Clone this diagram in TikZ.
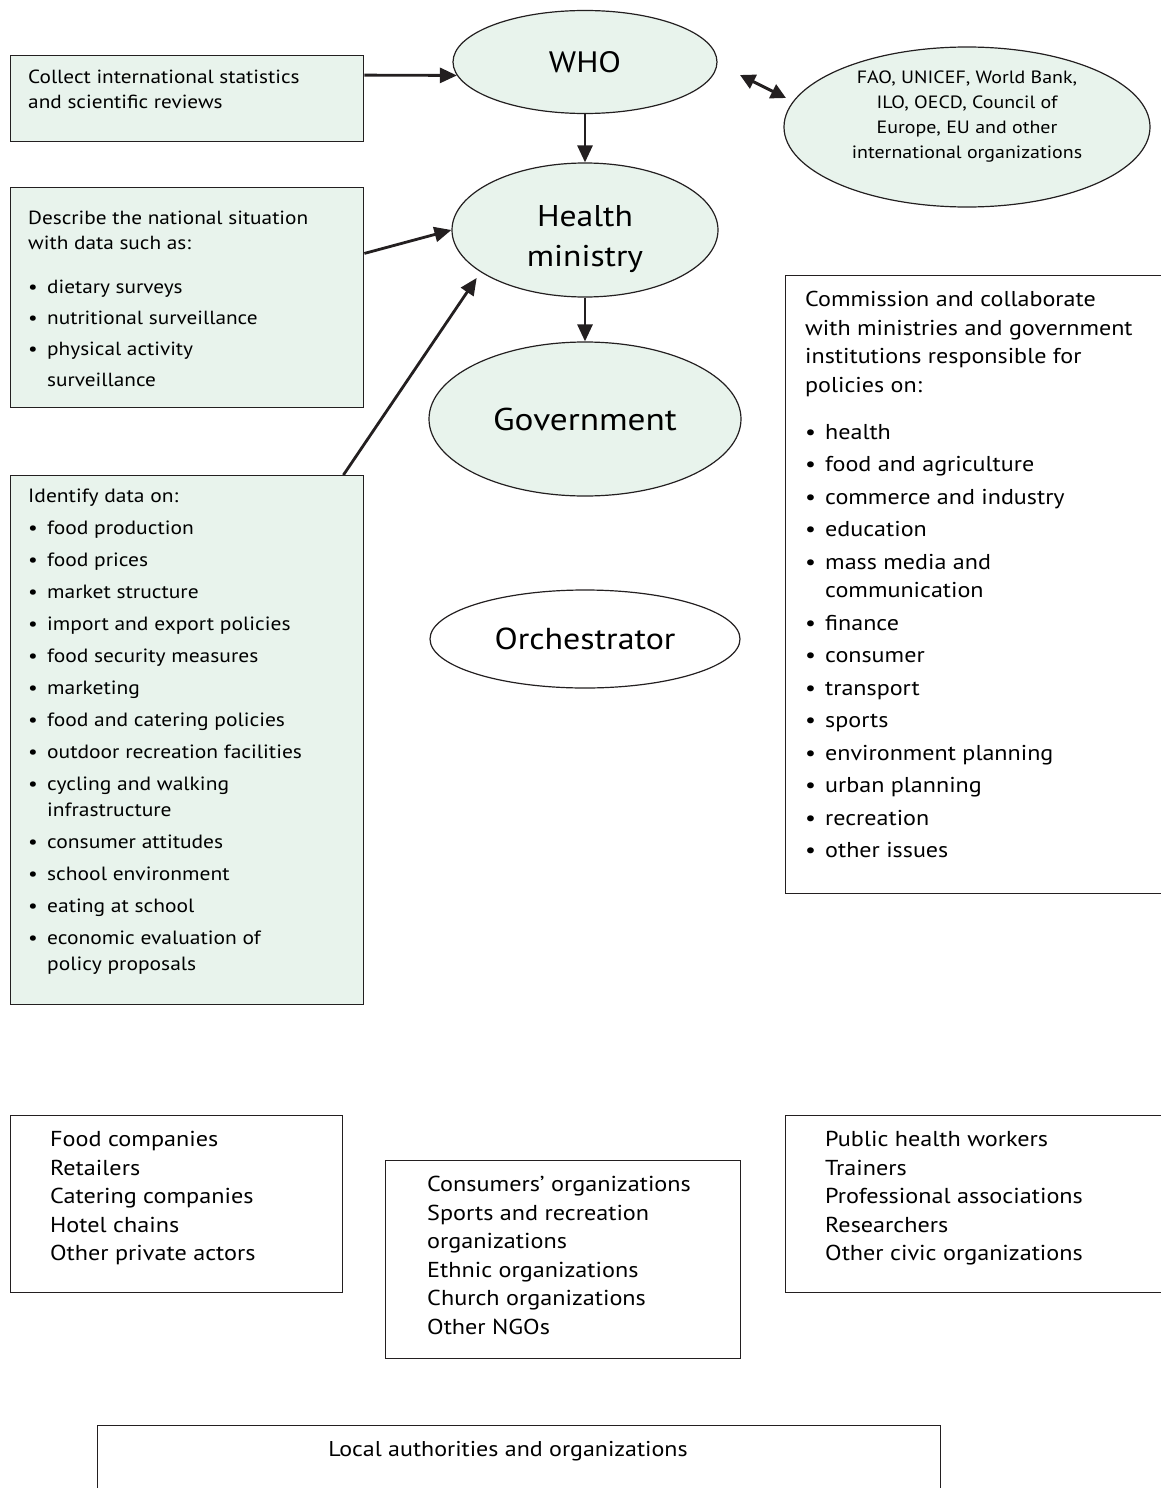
\documentclass[tikz,border=0pt]{standalone}
\usepackage{fontspec}
\setmainfont{PT Sans}[FakeStretch=1.12]
\usetikzlibrary{arrows.meta,positioning,calc,shapes.geometric}
\definecolor{boxgreen}{RGB}{232,243,236}
\definecolor{ink}{RGB}{35,31,32}
\newcommand{\bul}{\makebox[19pt][l]{\textbullet}}
\newcommand{\bulr}{\makebox[20pt][l]{\textbullet}}
\newcommand{\ind}{\hspace*{19pt}}
\newcommand{\indr}{\hspace*{20pt}}

\begin{document}
\begin{tikzpicture}[x=1pt,y=-1pt,
  box/.style={rectangle, draw=ink, line width=1.4pt, inner sep=0pt, anchor=north west},
  gbox/.style={box, fill=boxgreen},
  oval/.style={ellipse, draw=ink, line width=1.2pt, inner sep=0pt, fill=boxgreen, align=center},
  txt/.style={anchor=north west, inner sep=0pt, align=left},
  mid/.style={inner sep=0pt, align=center},
  arr/.style={-{Triangle[length=17pt,width=15pt]}, line width=2.8pt, draw=ink},
  dbl/.style={{Triangle[length=15pt,width=15pt]}-{Triangle[length=15pt,width=15pt]}, line width=3pt, draw=ink}]
  \useasboundingbox (0,0) rectangle (1160,1488);
  % ovals
  \node[oval, minimum width=264pt, minimum height=103pt, font=\fontsize{29.5}{40}\selectfont] (who) at (585,62) {WHO};
  \node[oval, minimum width=366pt, minimum height=160pt] (fao) at (967,127) {};
  \node[mid, font=\fontsize{17.8}{25}\selectfont] (faotxt) at ($(fao)+(0,-10)$)
    {FAO, UNICEF, World Bank,\\ILO, OECD, Council of\\Europe, EU and other\\international organizations};
  \node[oval, minimum width=266pt, minimum height=134pt] (health) at (585,230) {};
  \node[mid, font=\fontsize{30}{40}\selectfont] (healthtxt) at ($(health)+(0,9)$) {Health\\ministry};
  \node[oval, minimum width=312pt, minimum height=154pt, font=\fontsize{31.5}{40}\selectfont] (gov) at (585,419) {Government};
  \node[oval, fill=white, minimum width=310pt, minimum height=98pt, font=\fontsize{30.3}{40}\selectfont] (orch) at (585,639) {Orchestrator};
  % left boxes
  \node[gbox, minimum width=353pt, minimum height=86pt] (stats) at (10,55) {};
  \node[txt, font=\fontsize{19}{25}\selectfont] (statstxt) at (28,70)
    {Collect international statistics\\and scientific reviews};
  \node[gbox, minimum width=353pt, minimum height=220pt] (describe) at (10,187) {};
  \node[txt, font=\fontsize{19}{25}\selectfont] (describetxt) at (28,211)
    {Describe the national situation\\with data such as:\\[19pt]
     \bul dietary surveys\\[6pt]
     \bul nutritional surveillance\\[6pt]
     \bul physical activity\\[6pt]
     \ind surveillance};
  \node[gbox, minimum width=353pt, minimum height=529pt] (identify) at (10,475) {};
  \node[txt, font=\fontsize{19.2}{26}\selectfont] (identifytxt) at (28,489)
    {Identify data on:\\[6pt]
     \bul food production\\[6pt]
     \bul food prices\\[6pt]
     \bul market structure\\[6pt]
     \bul import and export policies\\[6pt]
     \bul food security measures\\[6pt]
     \bul marketing\\[6pt]
     \bul food and catering policies\\[6pt]
     \bul outdoor recreation facilities\\[6pt]
     \bul cycling and walking\\
     \ind infrastructure\\[6pt]
     \bul consumer attitudes\\[6pt]
     \bul school environment\\[6pt]
     \bul eating at school\\[6pt]
     \bul economic evaluation of\\
     \ind policy proposals};
  % right box
  \node[box, minimum width=390pt, minimum height=618pt] (commission) at (785,275) {};
  \node[txt, font=\fontsize{21.5}{28.5}\selectfont] (commissiontxt) at (805,291)
    {Commission and collaborate\\with ministries and government\\institutions responsible for\\policies on:\\[18.5pt]
     \bulr health\\[4pt]
     \bulr food and agriculture\\[4pt]
     \bulr commerce and industry\\[4pt]
     \bulr education\\[4pt]
     \bulr mass media and\\
     \indr communication\\[4pt]
     \bulr finance\\[4pt]
     \bulr consumer\\[4pt]
     \bulr transport\\[4pt]
     \bulr sports\\[4pt]
     \bulr environment planning\\[4pt]
     \bulr urban planning\\[4pt]
     \bulr recreation\\[4pt]
     \bulr other issues};
  % actor boxes
  \node[box, minimum width=332pt, minimum height=177pt] (private) at (10,1115) {};
  \node[txt, font=\fontsize{21.6}{28.5}\selectfont] (privatetxt) at (50,1131)
    {Food companies\\Retailers\\Catering companies\\Hotel chains\\Other private actors};
  \node[box, minimum width=355pt, minimum height=198pt] (ngo) at (385,1160) {};
  \node[txt, font=\fontsize{21.6}{28.5}\selectfont] (ngotxt) at (427,1176)
    {Consumers’ organizations\\Sports and recreation\\organizations\\Ethnic organizations\\Church organizations\\Other NGOs};
  \node[box, minimum width=390pt, minimum height=177pt] (civic) at (785,1115) {};
  \node[txt, font=\fontsize{21.6}{28.5}\selectfont] (civictxt) at (825,1131)
    {Public health workers\\Trainers\\Professional associations\\Researchers\\Other civic organizations};
  \node[box, minimum width=843pt, minimum height=90pt] (local) at (97,1425) {};
  \node[inner sep=0pt, font=\fontsize{21.4}{28.5}\selectfont] (localtxt) at (508,1451) {Local authorities and organizations};
  % arrows
  \coordinate (wl) at (740,75);
  \coordinate (fl) at (786,98);
  \draw[arr] ($(stats.north east)!0.23!(stats.south east)$) -- (who.186);
  \draw[dbl] (wl) -- (fl);
  \draw[arr] (who.south) -- (health.north);
  \draw[arr] ($(describe.north east)!0.3!(describe.south east)$) -- (health.west);
  \draw[arr, shorten >=7pt] ($(identify.north east)+(-21,0)$) -- (health.202);
  \draw[arr] (health.south) -- (gov.north);
\end{tikzpicture}
\end{document}
